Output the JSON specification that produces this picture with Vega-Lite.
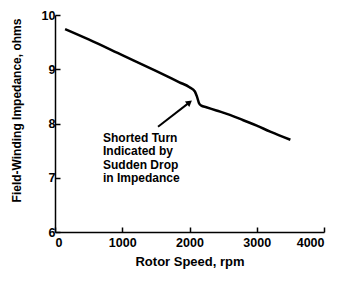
{
  "$schema": "https://vega.github.io/schema/vega-lite/v6.json",
  "width": 269,
  "height": 217,
  "autosize": {"type": "none"},
  "padding": {"left": 55, "top": 15, "right": 21, "bottom": 50},
  "background": "white",
  "config": {
    "view": {"stroke": null},
    "font": "Liberation Sans",
    "axis": {
      "grid": false,
      "domainColor": "black",
      "domainWidth": 1.5,
      "tickColor": "black",
      "tickWidth": 1.5,
      "tickSize": -5,
      "labelFont": "Liberation Sans",
      "labelFontWeight": "bold",
      "labelFontSize": 12.5,
      "labelColor": "black",
      "titleFont": "Liberation Sans",
      "titleFontWeight": "bold",
      "titleColor": "black"
    }
  },
  "datasets": {
    "curve": [
      {"rpm": 150, "imp": 9.74},
      {"rpm": 500, "imp": 9.55},
      {"rpm": 1000, "imp": 9.26},
      {"rpm": 1500, "imp": 8.97},
      {"rpm": 1850, "imp": 8.76},
      {"rpm": 2000, "imp": 8.67},
      {"rpm": 2080, "imp": 8.59},
      {"rpm": 2110, "imp": 8.5},
      {"rpm": 2140, "imp": 8.38},
      {"rpm": 2175, "imp": 8.33},
      {"rpm": 2250, "imp": 8.3},
      {"rpm": 2400, "imp": 8.24},
      {"rpm": 2600, "imp": 8.16},
      {"rpm": 2800, "imp": 8.06},
      {"rpm": 3000, "imp": 7.96},
      {"rpm": 3200, "imp": 7.85},
      {"rpm": 3500, "imp": 7.7}
    ],
    "arrow": [
      {"x1": 1532, "y1": 7.94, "x2": 2000, "y2": 8.39}
    ],
    "note": [
      {"rpm": 714, "imp": 7.83, "label": "Shorted Turn\nIndicated by\nSudden Drop\nin Impedance"}
    ]
  },
  "layer": [
    {
      "data": {"name": "curve"},
      "mark": {"type": "line", "color": "black", "strokeWidth": 2.5, "interpolate": "monotone"},
      "encoding": {
        "x": {
          "field": "rpm", "type": "quantitative",
          "scale": {"domain": [0, 4000], "nice": false},
          "axis": {"values": [0, 1000, 2000, 3000, 4000], "format": "d", "title": "Rotor Speed, rpm", "titleFontSize": 13, "labelPadding": 9, "titlePadding": 7}
        },
        "y": {
          "field": "imp", "type": "quantitative",
          "scale": {"domain": [6, 10], "nice": false, "zero": false},
          "axis": {"values": [6, 7, 8, 9, 10], "format": "d", "title": "Field-Winding Impedance, ohms", "titleFontSize": 12, "labelPadding": 5, "titleX": -32, "titleY": 95}
        }
      }
    },
    {
      "data": {"name": "arrow"},
      "mark": {"type": "rule", "color": "black", "strokeWidth": 2},
      "encoding": {
        "x": {"field": "x1", "type": "quantitative"},
        "y": {"field": "y1", "type": "quantitative"},
        "x2": {"field": "x2"},
        "y2": {"field": "y2"}
      }
    },
    {
      "data": {"name": "arrow"},
      "mark": {"type": "point", "shape": "triangle-up", "filled": true, "color": "black", "opacity": 1, "size": 50, "angle": 51.5},
      "encoding": {
        "x": {"field": "x2", "type": "quantitative"},
        "y": {"field": "y2", "type": "quantitative"}
      }
    },
    {
      "data": {"name": "note"},
      "mark": {"type": "text", "align": "left", "baseline": "top", "fontSize": 12, "fontWeight": "bold", "color": "black", "lineBreak": "\n", "lineHeight": 13.5},
      "encoding": {
        "x": {"field": "rpm", "type": "quantitative"},
        "y": {"field": "imp", "type": "quantitative"},
        "text": {"field": "label"}
      }
    }
  ]
}
